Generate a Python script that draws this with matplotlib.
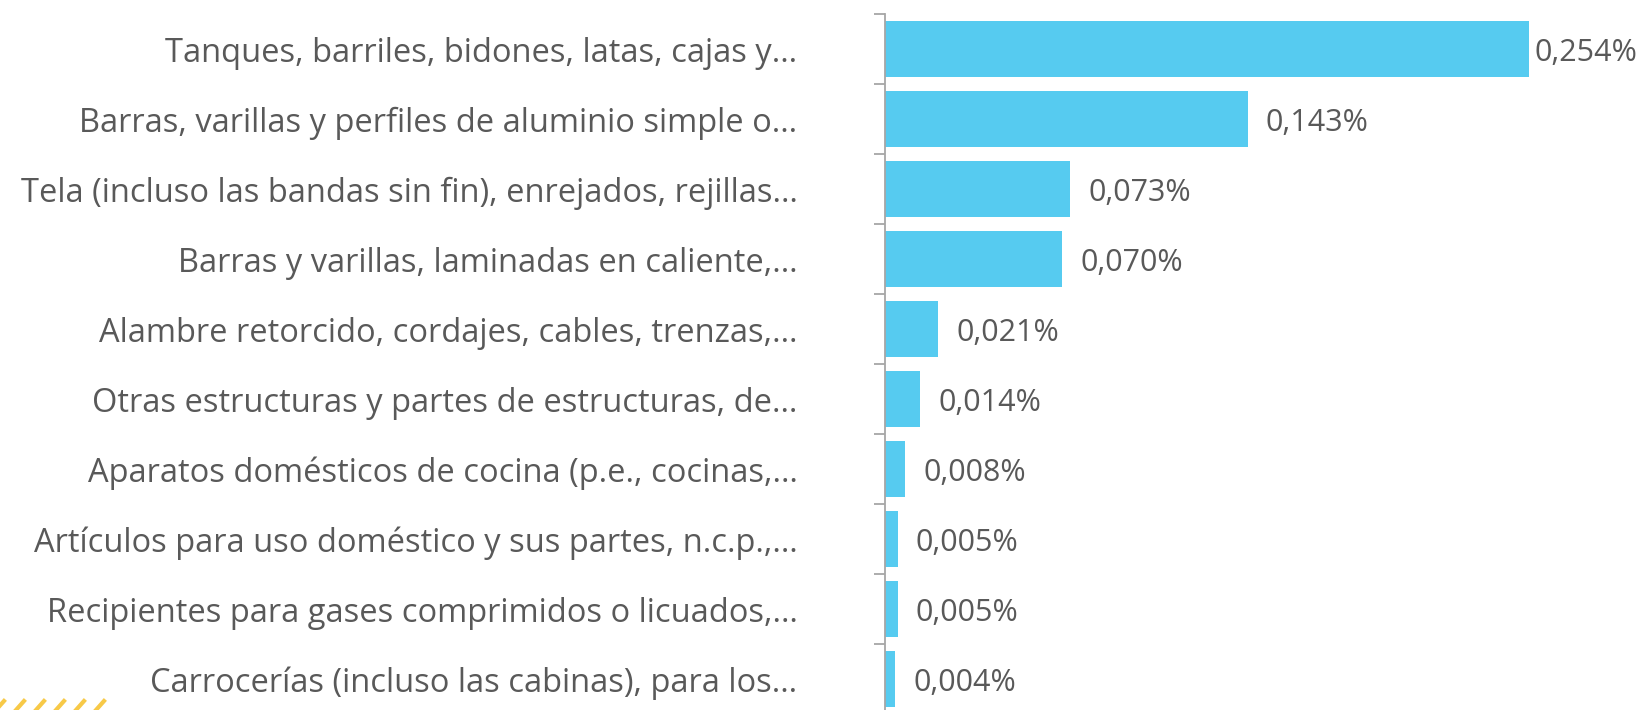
import matplotlib
matplotlib.use("Agg")
import matplotlib.pyplot as plt
from matplotlib.lines import Line2D

plt.rcParams['font.family'] = ['Open Sans', 'DejaVu Sans']

# categories, top to bottom
categorias = [
    "Tanques, barriles, bidones, latas, cajas y…",
    "Barras, varillas y perfiles de aluminio simple o…",
    "Tela (incluso las bandas sin fin), enrejados, rejillas…",
    "Barras y varillas, laminadas en caliente,…",
    "Alambre retorcido, cordajes, cables, trenzas,…",
    "Otras estructuras y partes de estructuras, de…",
    "Aparatos domésticos de cocina (p.e., cocinas,…",
    "Artículos para uso doméstico y sus partes, n.c.p.,…",
    "Recipientes para gases comprimidos o licuados,…",
    "Carrocerías (incluso las cabinas), para los…",
]
valores = [0.254, 0.143, 0.073, 0.070, 0.021, 0.014, 0.008, 0.005, 0.005, 0.004]
etiquetas = ["0,254%", "0,143%", "0,073%", "0,070%", "0,021%",
             "0,014%", "0,008%", "0,005%", "0,005%", "0,004%"]

W, H = 1641, 710
fig = plt.figure(figsize=(W / 100, H / 100), dpi=100)
# axes spans 885..1641 px horizontally, 14..714 px vertically (clipped at bottom)
ax = fig.add_axes([885 / W, 1 - 714 / H, (W - 885) / W, 700 / H])

bar_color = "#56CBF0"
text_color = "#595959"
axis_color = "#A6A6A6"

ypos = list(range(len(categorias)))
ax.barh(ypos, valores, height=0.79, color=bar_color)
ax.set_ylim(len(categorias) - 0.5, -0.5)
ax.set_xlim(0, (W - 885) / 2535)

for s in ["top", "right", "bottom"]:
    ax.spines[s].set_visible(False)
ax.spines["left"].set_color(axis_color)
ax.spines["left"].set_linewidth(1.3)

ax.set_xticks([])
ax.set_yticks([y - 0.5 for y in ypos] + [len(categorias) - 0.5])
ax.set_yticklabels([])
ax.tick_params(axis="y", length=8, width=1.3, color=axis_color)
ax.set_yticks(ypos, minor=True)
ax.set_yticklabels(categorias, minor=True)
ax.tick_params(axis="y", which="minor", length=0, pad=63,
               labelsize=23.5, labelcolor=text_color)

vmax = max(valores)
for y, v, lab in zip(ypos, valores, etiquetas):
    pad = 4 if v == vmax else 13
    ax.annotate(lab, xy=(v, y), xytext=(pad, -3), textcoords="offset points",
                va="center", ha="left", fontsize=22, color=text_color,
                annotation_clip=False)

# decorative yellow dashes in the bottom-left corner
for i in range(6):
    x0 = (i * 20 - 4) / W
    fig.add_artist(Line2D([x0, x0 + 8 / W], [0, 9 / H], color="#F7C948",
                          linewidth=3, transform=fig.transFigure))

fig.savefig("out.png", dpi=100)
